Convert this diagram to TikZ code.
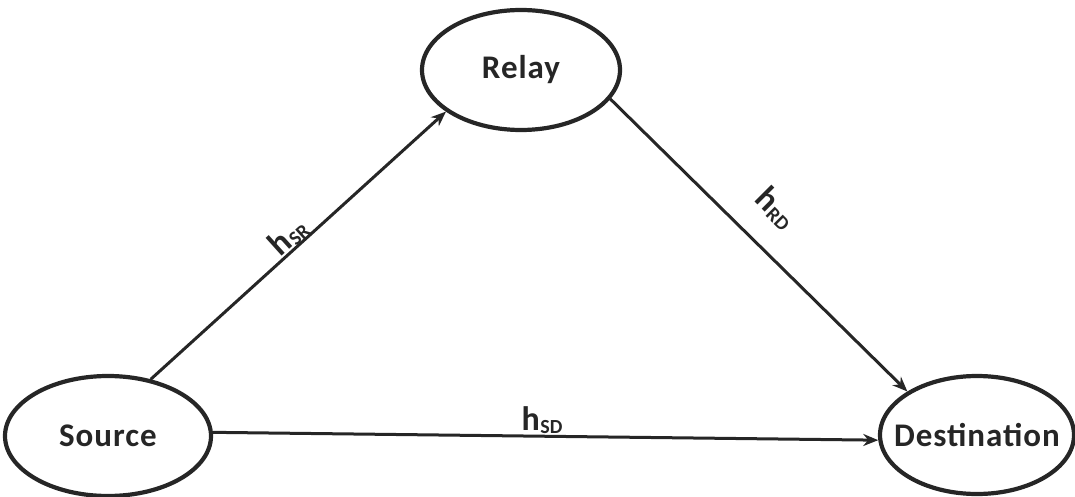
\documentclass[tikz,border=0pt]{standalone}
\usepackage{fontspec}
\setmainfont{Carlito}
\usetikzlibrary{shapes.geometric,arrows.meta}
\definecolor{ink}{HTML}{262626}
\tikzset{
  station/.style={ellipse, draw=ink, line width=4.2pt, inner xsep=-40pt, inner ysep=0pt, text=ink,
    font=\fontsize{33}{33}\selectfont\bfseries\addfontfeatures{LetterSpace=3}},
  link/.style={draw=ink, line width=3pt, -{Stealth[length=15pt,width=12pt]}},
  chan/.style={text=ink, font=\fontsize{34}{34}\selectfont\bfseries, inner sep=0pt}
}
\newcommand{\chsub}[1]{\kern0.5pt\raisebox{-0.15ex}{\fontsize{20}{20}\selectfont #1}}
\begin{document}
\begin{tikzpicture}[x=1pt,y=-1pt]
\useasboundingbox (0,0) rectangle (1075,497);
\node[station, minimum width=206pt, minimum height=120pt] (S) at (108,436) {Source};
\node[station, minimum width=198pt, minimum height=120pt] (R) at (521,70) {Relay};
\node[station, minimum width=194pt, minimum height=118pt] (D) at (977,435) {Destination};
\draw[link] (S.53) -- (R.209);
\draw[link] (R.342) -- (D.148);
\draw[link] (S.2) -- (D.183);
\node[chan, rotate=42] (lsr) at (288,236) {h\chsub{SR}};
\node[chan, rotate=-45] (lrd) at (776,208) {h\chsub{RD}};
\node[chan] (lsd) at (542,420) {h\chsub{SD}};
\end{tikzpicture}
\end{document}
